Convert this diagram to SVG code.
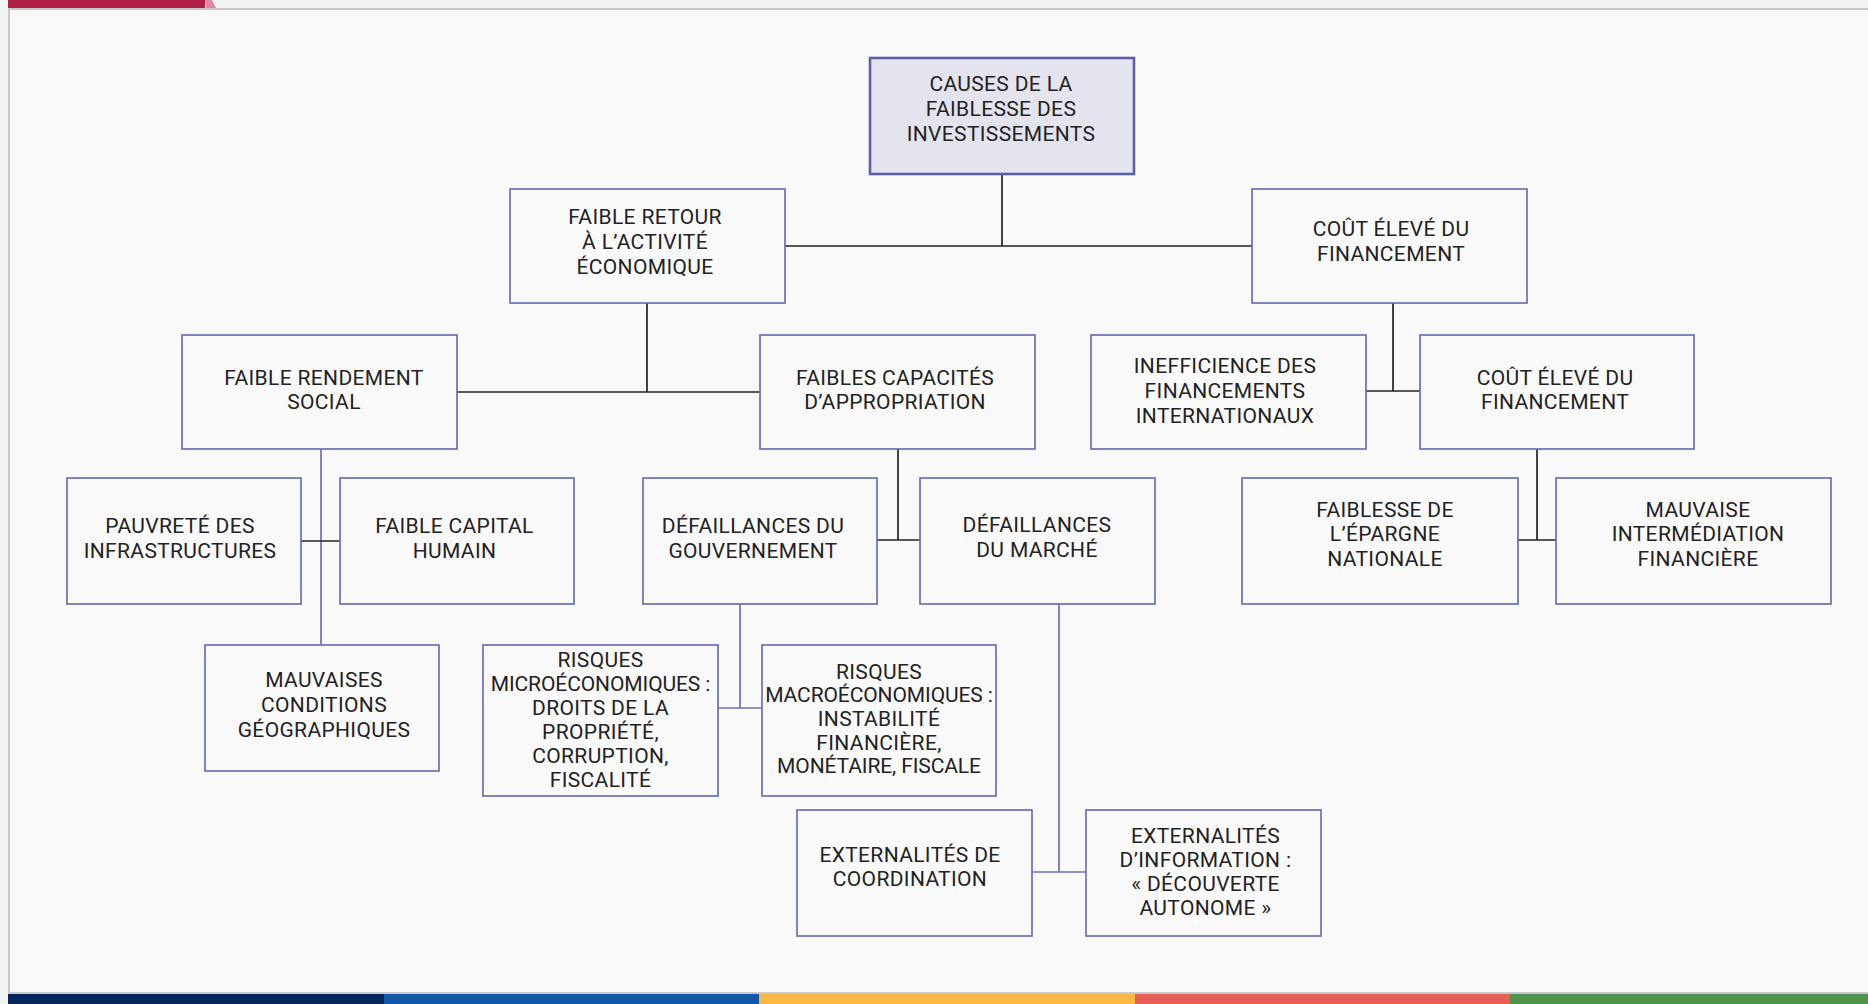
<svg xmlns="http://www.w3.org/2000/svg" width="1868" height="1004" viewBox="0 0 1868 1004">
<style>
.box{fill:#f9f9f9;stroke:#6d6fb6;stroke-width:1.7}
.root{fill:#e4e4ef;stroke:#5c5fa8;stroke-width:2.6}
.t{font-family:Roboto,"Liberation Sans",sans-serif;font-size:21px;letter-spacing:0.35px;fill:#222;text-anchor:middle}
.tight{letter-spacing:-0.1px}
.k{stroke:#222;stroke-width:1.7;fill:none}
.p{stroke:#6d6fb6;stroke-width:1.7;fill:none}
</style>
<rect x="0" y="0" width="1868" height="1004" fill="#f3f3f3"/>
<rect x="9" y="9" width="1860" height="984" fill="#f9f9f9" stroke="#c9c9cc" stroke-width="2"/>
<rect x="8" y="0" width="197" height="8" fill="#b01f48"/>
<polygon points="205,0 212,0 216,8 206,8" fill="#d98aa0"/>
<rect x="8" y="994" width="376" height="10" fill="#06245e"/>
<rect x="384" y="994" width="375" height="10" fill="#1357ab"/>
<rect x="759" y="994" width="376" height="10" fill="#f7b844"/>
<rect x="1135" y="994" width="375" height="10" fill="#e85d55"/>
<rect x="1510" y="994" width="358" height="10" fill="#4e944a"/>

<g id="connectors">
<path class="k" d="M1002,174V246M785,246H1252"/>
<path class="k" d="M647,303V392M457,392H760"/>
<path class="k" d="M1393,303V391M1366,391H1420"/>
<path class="p" d="M321,449V645"/>
<path class="k" d="M301,541H340"/>
<path class="k" d="M898,449V540M877,540H920"/>
<path class="k" d="M1537,449V540M1518,540H1556"/>
<path class="p" d="M740,604V708M718,708H762"/>
<path class="p" d="M1059,604V872M1032,872H1086"/>
</g>

<g id="n-causes"><rect class="root" x="870" y="58" width="264" height="116"/>
<text class="t"><tspan x="1001" y="91">CAUSES DE LA</tspan><tspan x="1001" y="116">FAIBLESSE DES</tspan><tspan x="1001" y="141">INVESTISSEMENTS</tspan></text></g>

<g id="n-retour"><rect class="box" x="510" y="189" width="275" height="114"/>
<text class="t"><tspan x="645" y="224">FAIBLE RETOUR</tspan><tspan x="645" y="249">À L’ACTIVITÉ</tspan><tspan x="645" y="274">ÉCONOMIQUE</tspan></text></g>

<g id="n-cout1"><rect class="box" x="1252" y="189" width="275" height="114"/>
<text class="t"><tspan x="1391" y="236">COÛT ÉLEVÉ DU</tspan><tspan x="1391" y="261">FINANCEMENT</tspan></text></g>

<g id="n-rendement"><rect class="box" x="182" y="335" width="275" height="114"/>
<text class="t"><tspan x="324" y="385">FAIBLE RENDEMENT</tspan><tspan x="324" y="409">SOCIAL</tspan></text></g>

<g id="n-capacites"><rect class="box" x="760" y="335" width="275" height="114"/>
<text class="t"><tspan x="895" y="385">FAIBLES CAPACITÉS</tspan><tspan x="895" y="409">D’APPROPRIATION</tspan></text></g>

<g id="n-inefficience"><rect class="box" x="1091" y="335" width="275" height="114"/>
<text class="t"><tspan x="1225" y="373">INEFFICIENCE DES</tspan><tspan x="1225" y="398">FINANCEMENTS</tspan><tspan x="1225" y="423">INTERNATIONAUX</tspan></text></g>

<g id="n-cout2"><rect class="box" x="1420" y="335" width="274" height="114"/>
<text class="t"><tspan x="1555" y="385">COÛT ÉLEVÉ DU</tspan><tspan x="1555" y="409">FINANCEMENT</tspan></text></g>

<g id="n-pauvrete"><rect class="box" x="67" y="478" width="234" height="126"/>
<text class="t"><tspan x="180" y="533">PAUVRETÉ DES</tspan><tspan x="180" y="558">INFRASTRUCTURES</tspan></text></g>

<g id="n-capital"><rect class="box" x="340" y="478" width="234" height="126"/>
<text class="t"><tspan x="454.5" y="533">FAIBLE CAPITAL</tspan><tspan x="454.5" y="558">HUMAIN</tspan></text></g>

<g id="n-gouv"><rect class="box" x="643" y="478" width="234" height="126"/>
<text class="t"><tspan x="753" y="533">DÉFAILLANCES DU</tspan><tspan x="753" y="558">GOUVERNEMENT</tspan></text></g>

<g id="n-marche"><rect class="box" x="920" y="478" width="235" height="126"/>
<text class="t"><tspan x="1037" y="532">DÉFAILLANCES</tspan><tspan x="1037" y="557">DU MARCHÉ</tspan></text></g>

<g id="n-epargne"><rect class="box" x="1242" y="478" width="276" height="126"/>
<text class="t"><tspan x="1385" y="517">FAIBLESSE DE</tspan><tspan x="1385" y="541">L’ÉPARGNE</tspan><tspan x="1385" y="566">NATIONALE</tspan></text></g>

<g id="n-intermediation"><rect class="box" x="1556" y="478" width="275" height="126"/>
<text class="t"><tspan x="1698" y="517">MAUVAISE</tspan><tspan x="1698" y="541">INTERMÉDIATION</tspan><tspan x="1698" y="566">FINANCIÈRE</tspan></text></g>

<g id="n-geo"><rect class="box" x="205" y="645" width="234" height="126"/>
<text class="t"><tspan x="324" y="687">MAUVAISES</tspan><tspan x="324" y="712">CONDITIONS</tspan><tspan x="324" y="737">GÉOGRAPHIQUES</tspan></text></g>

<g id="n-micro"><rect class="box" x="483" y="645" width="235" height="151"/>
<text class="t"><tspan x="600.5" y="667">RISQUES</tspan><tspan class="tight" x="600.5" y="691">MICROÉCONOMIQUES :</tspan><tspan x="600.5" y="715">DROITS DE LA</tspan><tspan x="600.5" y="739">PROPRIÉTÉ,</tspan><tspan x="600.5" y="763">CORRUPTION,</tspan><tspan x="600.5" y="787">FISCALITÉ</tspan></text></g>

<g id="n-macro"><rect class="box" x="762" y="645" width="234" height="151"/>
<text class="t"><tspan x="879" y="679">RISQUES</tspan><tspan class="tight" x="879" y="702">MACROÉCONOMIQUES :</tspan><tspan x="879" y="726">INSTABILITÉ</tspan><tspan x="879" y="750">FINANCIÈRE,</tspan><tspan class="tight" x="879" y="773">MONÉTAIRE, FISCALE</tspan></text></g>

<g id="n-coord"><rect class="box" x="797" y="810" width="235" height="126"/>
<text class="t"><tspan x="910" y="862">EXTERNALITÉS DE</tspan><tspan x="910" y="886">COORDINATION</tspan></text></g>

<g id="n-info"><rect class="box" x="1086" y="810" width="235" height="126"/>
<text class="t"><tspan x="1205.5" y="843">EXTERNALITÉS</tspan><tspan x="1205.5" y="867">D’INFORMATION :</tspan><tspan x="1205.5" y="891">« DÉCOUVERTE</tspan><tspan x="1205.5" y="915">AUTONOME »</tspan></text></g>
</svg>
